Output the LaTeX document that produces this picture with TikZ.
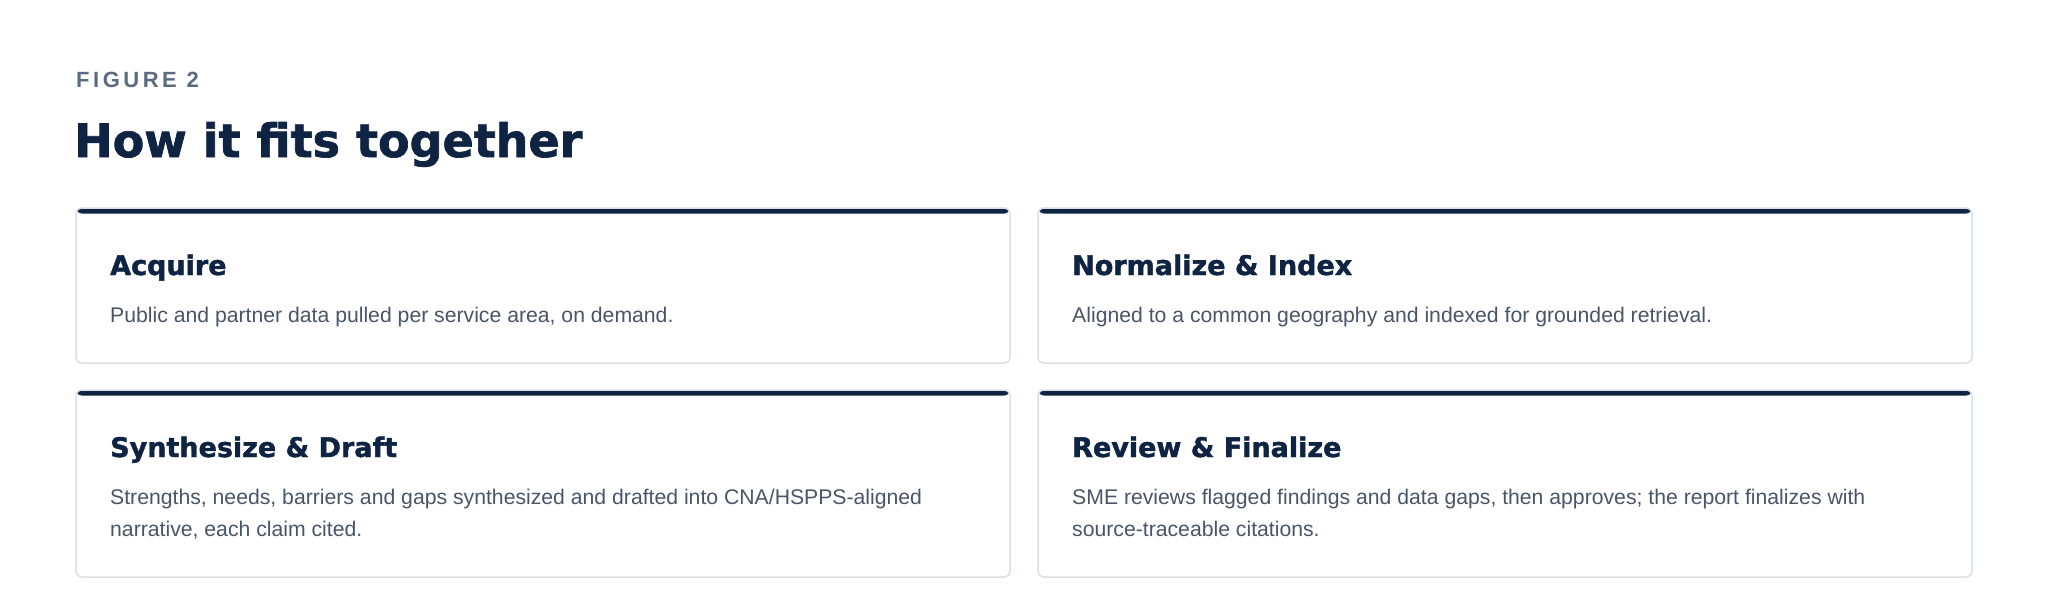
\documentclass[tikz,border=0pt]{standalone}
\usepackage{fontspec}
\setmainfont{Liberation Sans}
\newfontfamily\headfont{DejaVu Sans}[BoldFeatures={FakeBold=1.5}]
\newfontfamily\kickerfont{Liberation Sans}[LetterSpace=16]
\usetikzlibrary{positioning}

\definecolor{ink}{HTML}{0F2342}
\definecolor{slate}{HTML}{4A5568}
\definecolor{kicker}{HTML}{5B6B82}
\definecolor{edge}{HTML}{DADFE6}

\tikzset{
    card/.style={draw=edge, line width=1.5pt, rounded corners=6pt, fill=white,
        minimum width=934pt, minimum height=155pt, inner sep=0pt, outer sep=0pt,
        anchor=north west,
        path picture={\fill[ink] (path picture bounding box.north west)
            rectangle ([yshift=-5.5pt]path picture bounding box.north east);}},
    head/.style={anchor=base west, inner sep=0pt, text=ink,
        font=\headfont\bfseries\fontsize{27pt}{32pt}\selectfont},
    desc/.style={anchor=base west, inner sep=0pt, align=left, text=slate,
        font=\fontsize{21.2pt}{32pt}\selectfont},
}

\begin{document}
\begin{tikzpicture}[x=1pt, y=-1pt]
    \fill[white] (0,0) rectangle (2048,594);
    \useasboundingbox (0,0) rectangle (2048,594);

    \node[anchor=base west, inner sep=0pt, text=kicker,
        font=\kickerfont\bfseries\fontsize{22pt}{26pt}\selectfont] (fig) at (76,88) {FIGURE 2};
    \node[anchor=base west, inner sep=0pt, text=ink,
        font=\headfont\bfseries\fontsize{46pt}{52pt}\selectfont] (title) at (74,157) {How it fits together};

    \node[card] (acq) at (76,208) {};
    \node[card, right=28pt of acq] (norm) {};
    \node[card, minimum height=187pt, below=27pt of acq] (synth) {};
    \node[card, minimum height=187pt, below=27pt of norm] (rev) {};

    \node[head] (acqHead) at ([xshift=34pt, yshift=-67pt]acq.north west) {Acquire};
    \node[desc] (acqText) at ([xshift=34pt, yshift=-114pt]acq.north west)
        {Public and partner data pulled per service area, on demand.};

    \node[head] (normHead) at ([xshift=34pt, yshift=-67pt]norm.north west) {Normalize \& Index};
    \node[desc] (normText) at ([xshift=34pt, yshift=-114pt]norm.north west)
        {Aligned to a common geography and indexed for grounded retrieval.};

    % two-line texts sit on the baseline of their last line
    \node[head] (synthHead) at ([xshift=34pt, yshift=-67pt]synth.north west) {Synthesize \& Draft};
    \node[desc] (synthText) at ([xshift=34pt, yshift=-146pt]synth.north west)
        {Strengths, needs, barriers and gaps synthesized and drafted into CNA/HSPPS-aligned\\
         narrative, each claim cited.};

    \node[head] (revHead) at ([xshift=34pt, yshift=-67pt]rev.north west) {Review \& Finalize};
    \node[desc] (revText) at ([xshift=34pt, yshift=-146pt]rev.north west)
        {SME reviews flagged findings and data gaps, then approves; the report finalizes with\\
         source-traceable citations.};
\end{tikzpicture}
\end{document}
